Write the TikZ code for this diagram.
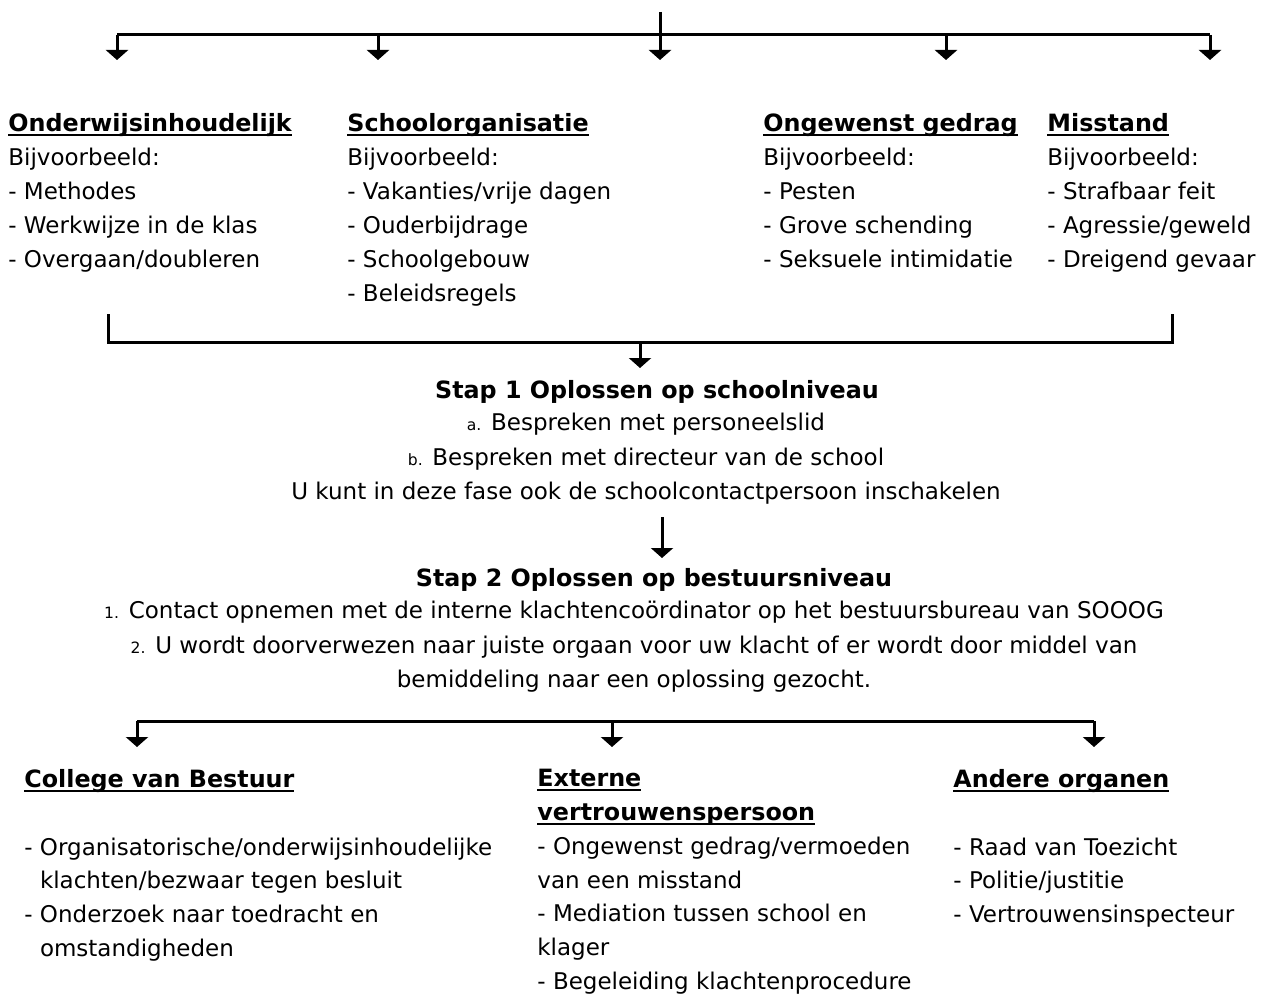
\documentclass[tikz,border=0pt]{standalone}
\usepackage{fontspec}
\setmainfont{DejaVu Sans}
\usetikzlibrary{arrows.meta,positioning}

\newcommand{\kop}[1]{\setbox0\hbox{\fontsize{11.9}{17}\bfseries #1}\rlap{\rule[-2.2pt]{\wd0}{1.1pt}}\box0}
\newcommand{\nr}[1]{{\fontsize{7.8}{17}\selectfont #1}}

\begin{document}
\begin{tikzpicture}[x=0.5pt, y=-0.5pt,
		tekst/.style={inner sep=0pt, anchor=north west, align=left, font=\fontsize{11.5}{17}\selectfont},
		onder/.style={tekst, font=\fontsize{11.5}{16.9}\selectfont},
		midden/.style={inner sep=0pt, anchor=north, align=center, font=\fontsize{11.5}{17.25}\selectfont},
		titel/.style={midden, font=\fontsize{11.9}{17.25}\bfseries},
		lijn/.style={line width=1.5pt},
		pijl/.style={line width=1.5pt, -{Triangle[width=11pt,length=5pt]}}]
		\useasboundingbox (0,0) rectangle (1267,995);

		% soorten klachten
		\node[tekst] (onderwijs) at (8,113) {\kop{Onderwijsinhoudelijk}\\Bijvoorbeeld:\\- Methodes\\- Werkwijze in de klas\\- Overgaan/doubleren};
		\node[tekst] (organisatie) at (347,113) {\kop{Schoolorganisatie}\\Bijvoorbeeld:\\- Vakanties/vrije dagen\\- Ouderbijdrage\\- Schoolgebouw\\- Beleidsregels};
		\node[tekst] (gedrag) at (763,113) {\kop{Ongewenst gedrag}\\Bijvoorbeeld:\\- Pesten\\- Grove schending\\- Seksuele intimidatie};
		\node[tekst] (misstand) at (1047,113) {\kop{Misstand}\\Bijvoorbeeld:\\- Strafbaar feit\\- Agressie/geweld\\- Dreigend gevaar};

		% stappen
		\node[titel] (stap1) at (657,380) {Stap 1 Oplossen op schoolniveau};
		\node[midden] (stap1tekst) at (646,413) {\nr{a.} Bespreken met personeelslid\\\nr{b.} Bespreken met directeur van de school\\U kunt in deze fase ook de schoolcontactpersoon inschakelen};
		\node[titel] (stap2) at (654,568) {Stap 2 Oplossen op bestuursniveau};
		\node[midden] (stap2tekst) at (634,601) {\nr{1.} Contact opnemen met de interne klachtencoördinator op het bestuursbureau van SOOOG\\\nr{2.} U wordt doorverwezen naar juiste orgaan voor uw klacht of er wordt door middel van\\bemiddeling naar een oplossing gezocht.};

		% organen
		\node[onder] (college) at (24,769) {\kop{College van Bestuur}\\[16.9pt]- Organisatorische/onderwijsinhoudelijke\\\phantom{- }klachten/bezwaar tegen besluit\\- Onderzoek naar toedracht en\\\phantom{- }omstandigheden};
		\node[onder] (extern) at (537,769) {\kop{Externe}\\\kop{vertrouwenspersoon}\\- Ongewenst gedrag/vermoeden\\van een misstand\\- Mediation tussen school en\\klager\\- Begeleiding klachtenprocedure};
		\node[onder] (organen) at (953,769) {\kop{Andere organen}\\[16.9pt]- Raad van Toezicht\\- Politie/justitie\\- Vertrouwensinspecteur};

		% bovenste verdeling
		\coordinate (start) at (660,12);
		\coordinate (balk) at (660,35);
		\coordinate (p1) at (117,60);
		\coordinate (p2) at (378,60);
		\coordinate (p3) at (660,60);
		\coordinate (p4) at (946,60);
		\coordinate (p5) at (1210,60);
		\draw[lijn] (p1 |- balk) -- (p5 |- balk);
		\draw[lijn] (start) -- (balk);
		\foreach \p in {p1,p2,p3,p4,p5}
			\draw[pijl] (\p |- balk) -- (\p);

		% samenkomen naar stap 1
		\coordinate (hl) at (108,314);
		\coordinate (hr) at (1172,314);
		\coordinate (m1) at (640,342);
		\draw[lijn] (hl) -- (hl |- m1) -- (hr |- m1) -- (hr);
		\draw[pijl, shorten >=6pt] (m1) -- (m1 |- stap1.north);

		% stap 1 naar stap 2
		\coordinate (m2) at (662,517);
		\draw[pijl, shorten >=5pt] (m2) -- (m2 |- stap2.north);

		% verdeling naar organen
		\coordinate (onder) at (612,721);
		\coordinate (q1) at (137,747);
		\coordinate (q2) at (612,747);
		\coordinate (q3) at (1094,747);
		\draw[lijn] (q1 |- onder) -- (q3 |- onder);
		\foreach \q in {q1,q2,q3}
			\draw[pijl] (\q |- onder) -- (\q);
	\end{tikzpicture}
\end{document}
